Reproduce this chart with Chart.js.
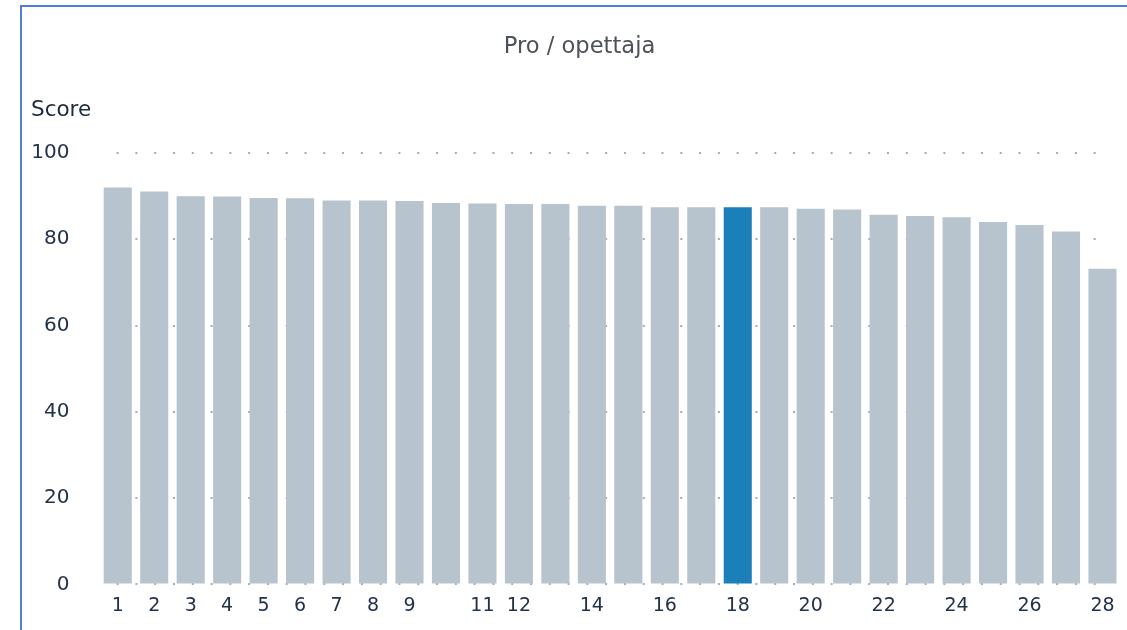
<!DOCTYPE html>
<html>
<head>
<meta charset="utf-8">
<title>Pro / opettaja</title>
<script src="https://cdn.jsdelivr.net/npm/chart.js@4/dist/chart.umd.min.js"></script>
<style>
    html, body {
        margin: 0;
        padding: 0;
        background: #ffffff;
        overflow: hidden;
        width: 1127px;
        height: 630px;
    }
    .frame {
        position: absolute;
        left: 20px;
        top: 5px;
        width: 1200px;
        height: 700px;
        border-left: 2px solid #4b7fd8;
        border-top: 2px solid #4b7fd8;
    }
    .chart-box {
        position: absolute;
        left: 22px;
        top: 7px;
        width: 1106px;
        height: 623px;
    }
</style>
</head>
<body>
<div class="frame"></div>
<div class="chart-box"><canvas id="scoreChart"></canvas></div>
<script>
// ============================================
// DATA
// ============================================

const categories = ['1', '2', '3', '4', '5', '6', '7', '8', '9', '10',
    '11', '12', '13', '14', '15', '16', '17', '18', '19', '20',
    '21', '22', '23', '24', '25', '26', '27', '28'];

const scores = [92.0, 91.1, 90.0, 89.9, 89.6, 89.5, 89.0, 89.0, 88.9, 88.4,
    88.3, 88.2, 88.2, 87.8, 87.8, 87.4, 87.4, 87.4, 87.4, 87.1,
    86.9, 85.7, 85.4, 85.1, 84.0, 83.3, 81.8, 73.2];

// Labels actually printed under the bars
const shownTicks = ['1', '2', '3', '4', '5', '6', '7', '8', '9',
    '11', '12', '14', '16', '18', '20', '22', '24', '26', '28'];

const yTicks = [0, 20, 40, 60, 80, 100];

const highlighted = '18';

// ============================================
// STYLE
// ============================================

const barGrey = '#b7c3cd';
const barBlue = '#1b7fb8';
const fontFamily = '"DejaVu Sans", Verdana, sans-serif';

// Dotted grid: a leading gap, 53 dots, then a long gap so the row
// stops short of the right edge like the original
const gridDash = [0, 16.6];
for (let i = 0; i < 53; i++) {
    gridDash.push(2, i === 52 ? 400 : 16.79);
}

// ============================================
// CHART
// ============================================

const ctx = document.getElementById('scoreChart').getContext('2d');

const chart = new Chart(ctx, {
    type: 'bar',
    data: {
        labels: categories,
        datasets: [{
            label: 'Score',
            data: scores,
            backgroundColor: categories.map(c => c === highlighted ? barBlue : barGrey),
            borderWidth: 0,
            barPercentage: 0.77,
            categoryPercentage: 1.0
        }]
    },
    options: {
        responsive: true,
        maintainAspectRatio: false,
        animation: false,
        layout: {
            padding: { left: 9, right: 0, top: 0, bottom: 2.2 }
        },
        plugins: {
            legend: { display: false },
            tooltip: { enabled: false },
            title: {
                display: true,
                text: 'Pro / opettaja',
                color: '#4d5259',
                font: { family: fontFamily, size: 22.6, weight: '400' },
                padding: { top: 27, bottom: 36.6 }
            },
            subtitle: {
                display: true,
                text: 'Score',
                align: 'start',
                color: '#1f2a3a',
                font: { family: fontFamily, size: 21.5, weight: '400' },
                padding: { top: 0, bottom: 29.5 }
            }
        },
        scales: {
            x: {
                grid: { display: false, drawTicks: false },
                border: { display: false },
                ticks: {
                    autoSkip: false,
                    maxRotation: 0,
                    padding: 10.3,
                    color: '#22324a',
                    font: { family: fontFamily, size: 19 },
                    callback: function(value) {
                        const label = this.getLabelForValue(value);
                        return shownTicks.includes(label) ? label : '';
                    }
                }
            },
            y: {
                min: yTicks[0],
                max: yTicks[yTicks.length - 1],
                afterBuildTicks: scale => {
                    scale.ticks = yTicks.map(v => ({ value: v }));
                },
                afterFit: scale => {
                    scale.width = 68.5;
                },
                // v4 keeps the grid-line dash pattern under "border"
                border: {
                    display: false,
                    dash: gridDash,
                    dashOffset: 0
                },
                grid: {
                    drawTicks: false,
                    color: '#a3adba',
                    lineWidth: 2
                },
                ticks: {
                    padding: 30,
                    color: '#22324a',
                    font: { family: fontFamily, size: 20 }
                }
            },
            // empty right axis, only to reserve the strip right of the last bar
            spacer: {
                type: 'linear',
                position: 'right',
                display: true,
                grid: { display: false },
                border: { display: false },
                ticks: { display: false },
                afterFit: scale => {
                    scale.width = 7.3;
                }
            }
        }
    }
});
</script>
</body>
</html>
